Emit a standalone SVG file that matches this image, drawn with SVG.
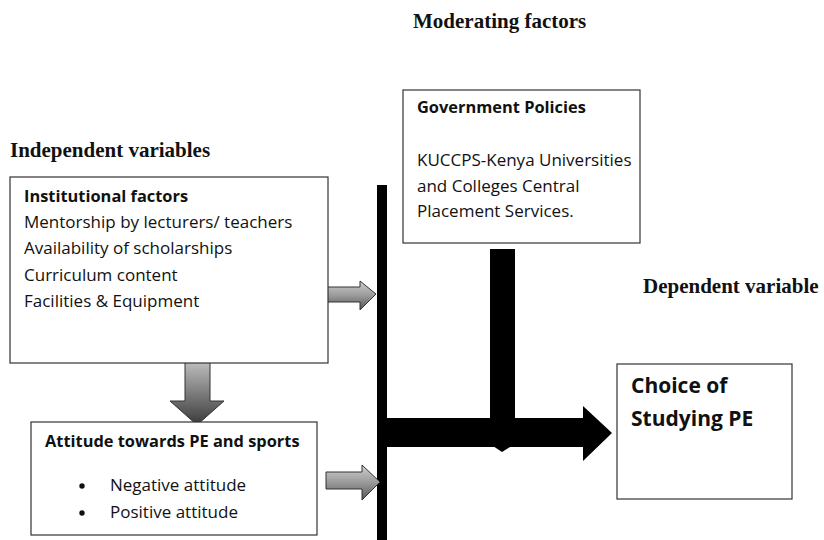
<svg xmlns="http://www.w3.org/2000/svg" width="824" height="540" viewBox="0 0 824 540">
<defs>
<linearGradient id="gv" x1="0" y1="0" x2="0" y2="1">
<stop offset="0" stop-color="#d0d0d0"/><stop offset="0.5" stop-color="#9a9a9a"/><stop offset="1" stop-color="#555"/>
</linearGradient>
<linearGradient id="gd" x1="0" y1="0" x2="0" y2="1">
<stop offset="0" stop-color="#bdbdbd"/><stop offset="1" stop-color="#3a3a3a"/>
</linearGradient>
</defs>
<style>
.box{fill:#fff;stroke:#333;stroke-width:1.2}
.hdr{font-family:"Liberation Serif","Times New Roman",serif;font-weight:bold;font-size:21px;fill:#111}
.t{font-family:"Open Sans","Noto Sans",sans-serif;font-size:17px;fill:#111}
.b{font-weight:bold;font-size:16.4px}
.big{font-family:"Open Sans","Noto Sans",sans-serif;font-size:21px;font-weight:bold;fill:#111}
.ga{stroke:#333;stroke-width:1}
</style>
<rect width="824" height="540" fill="#fff"/>
<text class="hdr" x="413" y="28">Moderating factors</text>
<text class="hdr" x="10" y="157">Independent variables</text>
<text class="hdr" x="643" y="293">Dependent variable</text>

<g id="connectors">
<rect x="377" y="185" width="10" height="355" fill="#000"/>
<polygon points="490,249 515,249 515,444 502,452 490,444" fill="#000"/>
<polygon points="387,418 583,418 583,406 612,433 583,461 583,447 387,447" fill="#000"/>
<polygon class="ga" fill="url(#gv)" points="326,287 360,287 360,281 376,294 360,310 360,302 326,302"/>
<polygon class="ga" fill="url(#gv)" points="326,472 362,472 362,465 380,482 362,500 362,489 326,489"/>
<polygon class="ga" fill="url(#gd)" points="185,362 210,362 210,401 224,401 197,425 170,401 185,401"/>
</g>

<g id="institutional">
<rect class="box" x="10" y="177" width="318" height="186"/>
<text class="t b" x="24" y="202">Institutional factors</text>
<text class="t" x="24" y="228">Mentorship by lecturers/ teachers</text>
<text class="t" x="24" y="254">Availability of scholarships</text>
<text class="t" x="24" y="281">Curriculum content</text>
<text class="t" x="24" y="307">Facilities &amp; Equipment</text>
</g>

<g id="attitude">
<rect class="box" x="31" y="422" width="286" height="113"/>
<text class="t b" x="45" y="447">Attitude towards PE and sports</text>
<circle cx="82" cy="486" r="2.7" fill="#111"/>
<text class="t" x="110" y="491">Negative attitude</text>
<circle cx="82" cy="513" r="2.7" fill="#111"/>
<text class="t" x="110" y="518">Positive attitude</text>
</g>

<g id="government">
<rect class="box" x="403" y="90" width="237" height="153"/>
<text class="t b" x="417" y="113">Government Policies</text>
<text class="t" x="417" y="166">KUCCPS-Kenya Universities</text>
<text class="t" x="417" y="192">and Colleges Central</text>
<text class="t" x="417" y="217">Placement Services.</text>
</g>

<g id="choice">
<rect class="box" x="617" y="364" width="175" height="135"/>
<text class="big" x="631" y="393">Choice of</text>
<text class="big" x="631" y="426">Studying PE</text>
</g>
</svg>
